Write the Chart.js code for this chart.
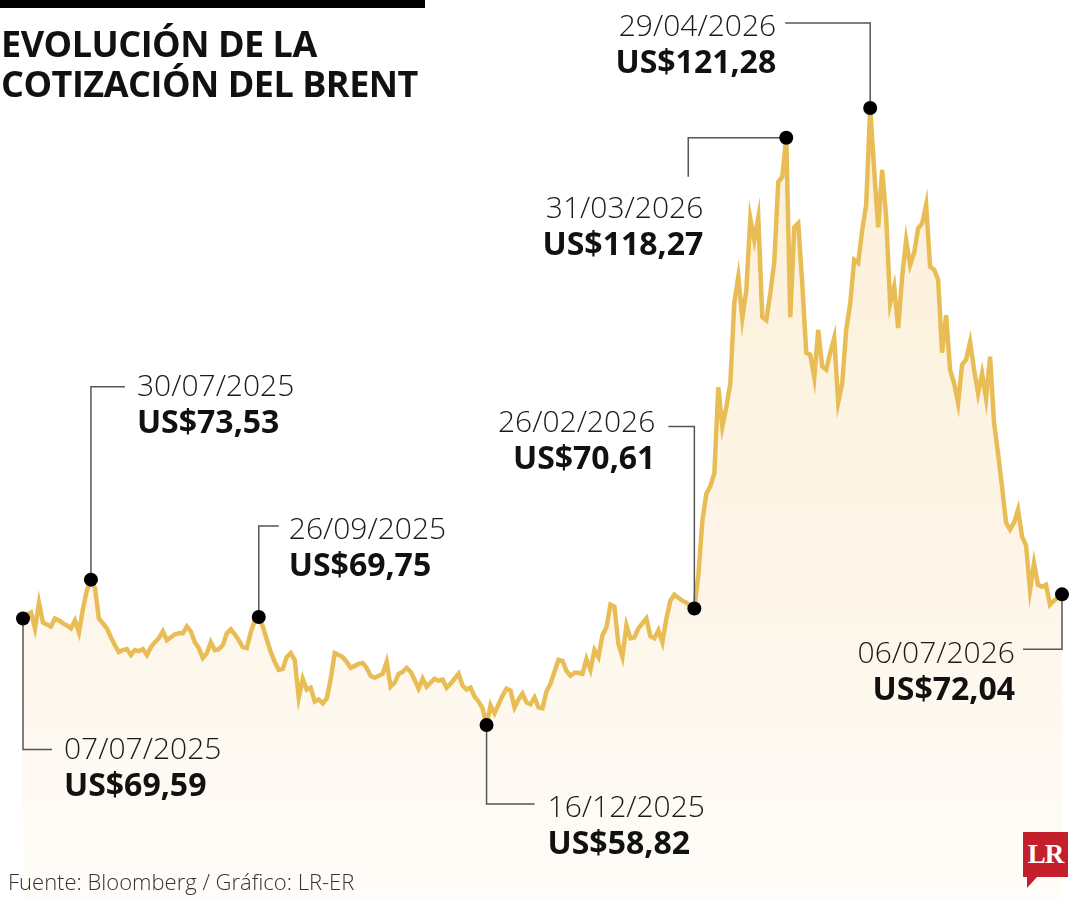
<!DOCTYPE html>
<html>
<head>
<meta charset="utf-8">
<script src="https://cdn.jsdelivr.net/npm/chart.js@4/dist/chart.umd.min.js"></script>
<style>
  body { margin: 0; background: #fff; }
  #wrap { position: relative; width: 1080px; height: 900px; overflow: hidden; font-family: "Open Sans", sans-serif; }
  #topbar { position: absolute; left: 0; top: 0; width: 425px; height: 8px; background: #000; }
  #title { position: absolute; left: 1px; top: 24px; font-size: 36px; line-height: 40px; font-weight: 700; color: #111; font-stretch: 90%; letter-spacing: -0.5px; }
  canvas { position: absolute; left: 0; top: 0; }
  .lbl { position: absolute; white-space: nowrap; }
  .lbl .d { font-size: 30px; line-height: 36px; font-weight: 300; color: #1a1a1a; font-stretch: 92%; }
  .lbl .v { font-size: 32px; line-height: 36px; font-weight: 700; color: #111; }
  #source { position: absolute; left: 8px; top: 867px; font-size: 22px; line-height: 28px; font-weight: 300; color: #333; }
  #logo { position: absolute; left: 1023px; top: 832px; width: 45px; height: 45px; background: #c4202b; color: #fff;
          font-family: "Liberation Serif", serif; font-weight: 700; font-size: 27px; line-height: 45px; text-align: center; letter-spacing: -1px; }
  #logo:after { content: ""; position: absolute; left: 4px; top: 45px; border-left: 0 solid transparent; border-right: 10px solid transparent; border-top: 11px solid #c4202b; }
</style>
</head>
<body>
<div id="wrap">
  <canvas id="brent" width="1080" height="900"></canvas>
  <div id="topbar"></div>
  <div id="title">EVOLUCIÓN DE LA<br>COTIZACIÓN DEL BRENT</div>
  <div id="source">Fuente: Bloomberg / Gráfico: LR-ER</div>
  <div id="logo">LR</div>
</div>
<script>
// Brent, US$ per barrel, one value per trading day from 07/07/2025 to 06/07/2026
const prices = [
  69.59, 70.0, 70.2, 68.6, 71.2, 69.2, 69.0, 68.8, 69.6, 69.4,
  69.1, 68.9, 68.6, 69.4, 68.2, 70.6, 72.5, 73.53, 72.7, 69.6,
  69.1, 68.6, 67.7, 66.9, 66.2, 66.4, 66.5, 65.9, 66.4, 66.3,
  66.5, 65.9, 66.7, 67.2, 67.6, 68.3, 67.4, 67.7, 68.0, 68.1,
  68.1, 68.8, 68.3, 67.2, 66.6, 65.6, 66.1, 67.2, 66.4, 66.5,
  66.9, 68.1, 68.5, 68.0, 67.4, 66.7, 66.6, 68.2, 69.4, 69.75,
  68.8, 67.5, 66.2, 65.2, 64.4, 64.5, 65.7, 66.1, 65.4, 61.6,
  63.5, 62.4, 62.6, 61.2, 61.4, 61.0, 61.5, 63.5, 66.1, 65.9,
  65.7, 65.2, 64.6, 64.8, 65.0, 65.1, 64.6, 63.8, 63.6, 63.8,
  64.0, 65.2, 62.7, 63.1, 64.0, 64.2, 64.6, 64.2, 63.4, 62.5,
  63.5, 62.7, 63.1, 63.5, 63.3, 63.4, 62.6, 63.0, 63.5, 64.0,
  62.8, 62.4, 62.6, 61.7, 61.2, 60.5, 58.82, 60.8, 60.0, 60.9,
  61.8, 62.5, 62.3, 60.6, 61.4, 62.0, 61.1, 60.9, 61.6, 60.6,
  60.5, 62.2, 63.0, 64.2, 65.4, 65.3, 64.3, 63.8, 64.1, 64.1,
  64.0, 65.5, 64.4, 66.4, 65.7, 67.9, 68.7, 71.0, 70.8, 67.0,
  65.7, 68.9, 67.6, 67.7, 68.6, 69.1, 69.6, 67.8, 67.6, 68.4,
  67.2, 69.6, 71.4, 72.0, 71.7, 71.4, 71.2, 70.9, 70.61, 74.0,
  79.5, 82.2, 83.0, 84.3, 93.0, 89.0, 91.0, 93.4, 101.6, 104.2,
  100.0, 102.8, 110.1, 107.9, 110.2, 100.1, 99.8, 102.5, 105.7, 113.8,
  114.3, 118.27, 100.1, 109.2, 109.6, 103.5, 96.5, 96.3, 94.0, 98.8,
  95.1, 94.8, 96.5, 98.0, 91.5, 93.4, 98.8, 101.5, 105.9, 105.6,
  108.9, 111.5, 121.28, 115.0, 109.2, 115.0, 110.2, 101.5, 103.2, 99.0,
  104.2, 107.9, 105.4, 106.6, 109.1, 109.6, 111.5, 105.2, 104.9, 103.9,
  96.5, 100.3, 94.8, 93.4, 91.4, 95.3, 95.8, 97.6, 94.8, 92.4,
  94.4, 91.9, 96.1, 89.4, 86.3, 82.9, 79.3, 78.6, 79.3, 80.6,
  77.9, 77.0, 72.5, 75.2, 73.0, 72.8, 73.0, 71.0, 71.4, 71.7,
  72.04
]

// trading days (weekdays) starting 07/07/2025
const dates = []
for (let d = new Date(2025, 6, 7); dates.length < prices.length; d.setDate(d.getDate() + 1)) {
  if (d.getDay() == 0 || d.getDay() == 6) continue
  dates.push(String(d.getDate()).padStart(2, '0') + '/' + String(d.getMonth() + 1).padStart(2, '0') + '/' + d.getFullYear())
}

// highlighted points
const markDates = ['07/07/2025', '30/07/2025', '26/09/2025', '16/12/2025', '26/02/2026', '31/03/2026', '29/04/2026', '06/07/2026']
const markValues = [69.59, 73.53, 69.75, 58.82, 70.61, 118.27, 121.28, 72.04]

// leader path (offsets from the dot), label anchor x, date-line centre y, alignment
const markLayout = [
  { path: [[0, 0], [0, 131], [29, 131]], lx: 41, ly: 129, align: 'left' },
  { path: [[0, 0], [0, -193], [34, -193]], lx: 46, ly: -195, align: 'left' },
  { path: [[0, 0], [0, -91], [20, -91]], lx: 30, ly: -89, align: 'left' },
  { path: [[0, 0], [0, 79], [48, 79]], lx: 61, ly: 81, align: 'left' },
  { path: [[0, 0], [0, -182], [-26, -182]], lx: -39, ly: -187, align: 'right' },
  { path: [[0, 0], [-98, 0], [-98, 39]], lx: -83, ly: 69, align: 'right' },
  { path: [[0, 0], [0, -85], [-85, -85]], lx: -94, ly: -83, align: 'right' },
  { path: [[0, 0], [0, 55], [-39, 55]], lx: -47, ly: 58, align: 'right' }
]

function fmtUSD(v) {
  return 'US$' + v.toFixed(2).replace('.', ',')
}

function markPixel(chart, k) {
  const i = dates.indexOf(markDates[k])
  return { x: chart.scales.x.getPixelForValue(i), y: chart.scales.y.getPixelForValue(prices[i]) }
}

const markPlugin = {
  id: 'marks',
  afterDatasetsDraw(chart) {
    const c = chart.ctx
    c.save()
    markDates.forEach((date, k) => {
      const p = markPixel(chart, k)
      c.strokeStyle = '#555'
      c.lineWidth = 1.5
      c.beginPath()
      markLayout[k].path.forEach(([dx, dy], n) => {
        if (n == 0) c.moveTo(p.x + dx, p.y + dy)
        else c.lineTo(p.x + dx, p.y + dy)
      })
      c.stroke()
      c.fillStyle = '#000'
      c.beginPath()
      c.arc(p.x, p.y, 7, 0, Math.PI * 2)
      c.fill()
    })
    c.restore()
  }
}

const ctx = document.getElementById('brent').getContext('2d')
const fillGrad = ctx.createLinearGradient(0, 100, 0, 900)
fillGrad.addColorStop(0, '#fcf0d9')
fillGrad.addColorStop(0.6, '#fdf5e8')
fillGrad.addColorStop(1, '#fffdf9')

const chart = new Chart(ctx, {
  type: 'line',
  data: {
    labels: dates,
    datasets: [{
      data: prices,
      borderColor: '#e8bd55',
      borderWidth: 4.5,
      pointRadius: 0,
      tension: 0,
      fill: 'start',
      backgroundColor: fillGrad
    }]
  },
  options: {
    responsive: false,
    animation: false,
    devicePixelRatio: 1,
    layout: { padding: { left: 23, right: 18, top: 0, bottom: 0 } },
    plugins: { legend: { display: false }, tooltip: { enabled: false } },
    scales: {
      x: { display: false },
      y: { display: false, min: 41.1, max: 132.21 }
    }
  },
  plugins: [markPlugin]
})

// text labels next to the highlighted points
const wrap = document.getElementById('wrap')
markDates.forEach((date, k) => {
  const p = markPixel(chart, k)
  const lay = markLayout[k]
  const el = document.createElement('div')
  el.className = 'lbl'
  el.innerHTML = '<div class="d">' + date + '</div><div class="v">' + fmtUSD(markValues[k]) + '</div>'
  el.style.top = (p.y + lay.ly - 18) + 'px'
  if (lay.align == 'left') {
    el.style.left = (p.x + lay.lx) + 'px'
  } else {
    el.style.right = (1080 - (p.x + lay.lx)) + 'px'
    el.style.textAlign = 'right'
  }
  wrap.appendChild(el)
})
</script>
</body>
</html>
